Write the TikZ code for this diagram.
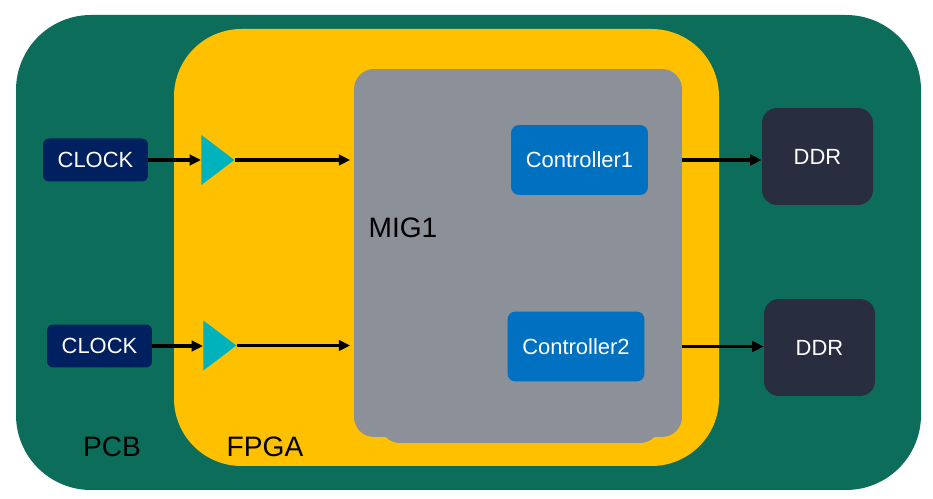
\documentclass[tikz,border=0pt]{standalone}
\usepackage{fontspec}
\setmainfont{Liberation Sans}
\usetikzlibrary{arrows.meta,shapes.geometric}
\definecolor{pcbgreen}{HTML}{0C6E5A}
\definecolor{fpgayellow}{HTML}{FFC000}
\definecolor{miggray}{HTML}{8C9099}
\definecolor{ctrlblue}{HTML}{0070C0}
\definecolor{ddrdark}{HTML}{282D40}
\definecolor{clkblue}{HTML}{002060}
\definecolor{bufteal}{HTML}{00B2BC}
\tikzset{
  clkbox/.style={fill=clkblue,text=white,rounded corners=0.12cm,minimum width=2.1cm,minimum height=0.86cm,inner sep=0pt,font=\fontsize{12.5}{14}\selectfont},
  ctrlbox/.style={fill=ctrlblue,text=white,rounded corners=0.16cm,minimum width=2.74cm,minimum height=1.4cm,inner sep=0pt,font=\fontsize{12.5}{14}\selectfont},
  ddrbox/.style={fill=ddrdark,text=white,rounded corners=0.3cm,minimum width=2.22cm,minimum height=1.94cm,inner sep=0pt,font=\fontsize{12.5}{14}\selectfont},
  buf/.style={isosceles triangle,isosceles triangle stretches,fill=bufteal,minimum width=1cm,minimum height=0.66cm,inner sep=0pt,shape border rotate=0,anchor=west},
  sig/.style={line width=2pt,-{Triangle[length=6.5pt,width=6pt]}},
  lbl/.style={font=\fontsize{16}{18}\selectfont,text=black}
}
\begin{document}
\begin{tikzpicture}[x=0.02cm,y=-0.02cm]
\useasboundingbox (0,0) rectangle (933,499);
% boards
\fill[pcbgreen,rounded corners=1.5cm] (16,15) rectangle (921,490);
\fill[fpgayellow,rounded corners=1.35cm] (174,29) rectangle (719,466);
\fill[miggray,rounded corners=0.4cm] (380,90) rectangle (660,443);
\node[fill=miggray,rounded corners=0.4cm,minimum width=6.56cm,minimum height=7.36cm,inner sep=0pt] (mig) at (518,253) {};
%
\node[lbl] (pcb) at (112,447) {PCB};
\node[lbl] (fpga) at (265,447) {FPGA};
\node[lbl] (miglbl) at (403,228) {MIG1};
%
\node[ctrlbox] (ctrl1) at (579.5,160) {Controller1};
\node[ctrlbox] (ctrl2) at (576,346.5) {Controller2};
\node[ddrbox] (ddr1) at (817.5,156.5) {DDR};
\node[ddrbox] (ddr2) at (819.5,347.5) {DDR};
\node[clkbox] (clk1) at (95.5,160) {CLOCK};
\node[clkbox] (clk2) at (99.5,346) {CLOCK};
\node[buf] (buf1) at (201,160) {};
\node[buf] (buf2) at (203,345.5) {};
%
\draw[sig] (clk1.east) -- (clk1.east -| buf1.west);
\draw[sig] (clk2.east) -- (clk2.east -| buf2.west);
\draw[sig] (buf1.east) -- ([xshift=-2pt]buf1.east -| mig.west);
\draw[sig] (buf2.east) -- ([xshift=-2pt]buf2.east -| mig.west);
\draw[sig] (ctrl1.east -| mig.east) -- (ddr1.west |- ctrl1.east);
\draw[sig] (ctrl2.east -| mig.east) -- (ddr2.west |- ctrl2.east);
\end{tikzpicture}
\end{document}
